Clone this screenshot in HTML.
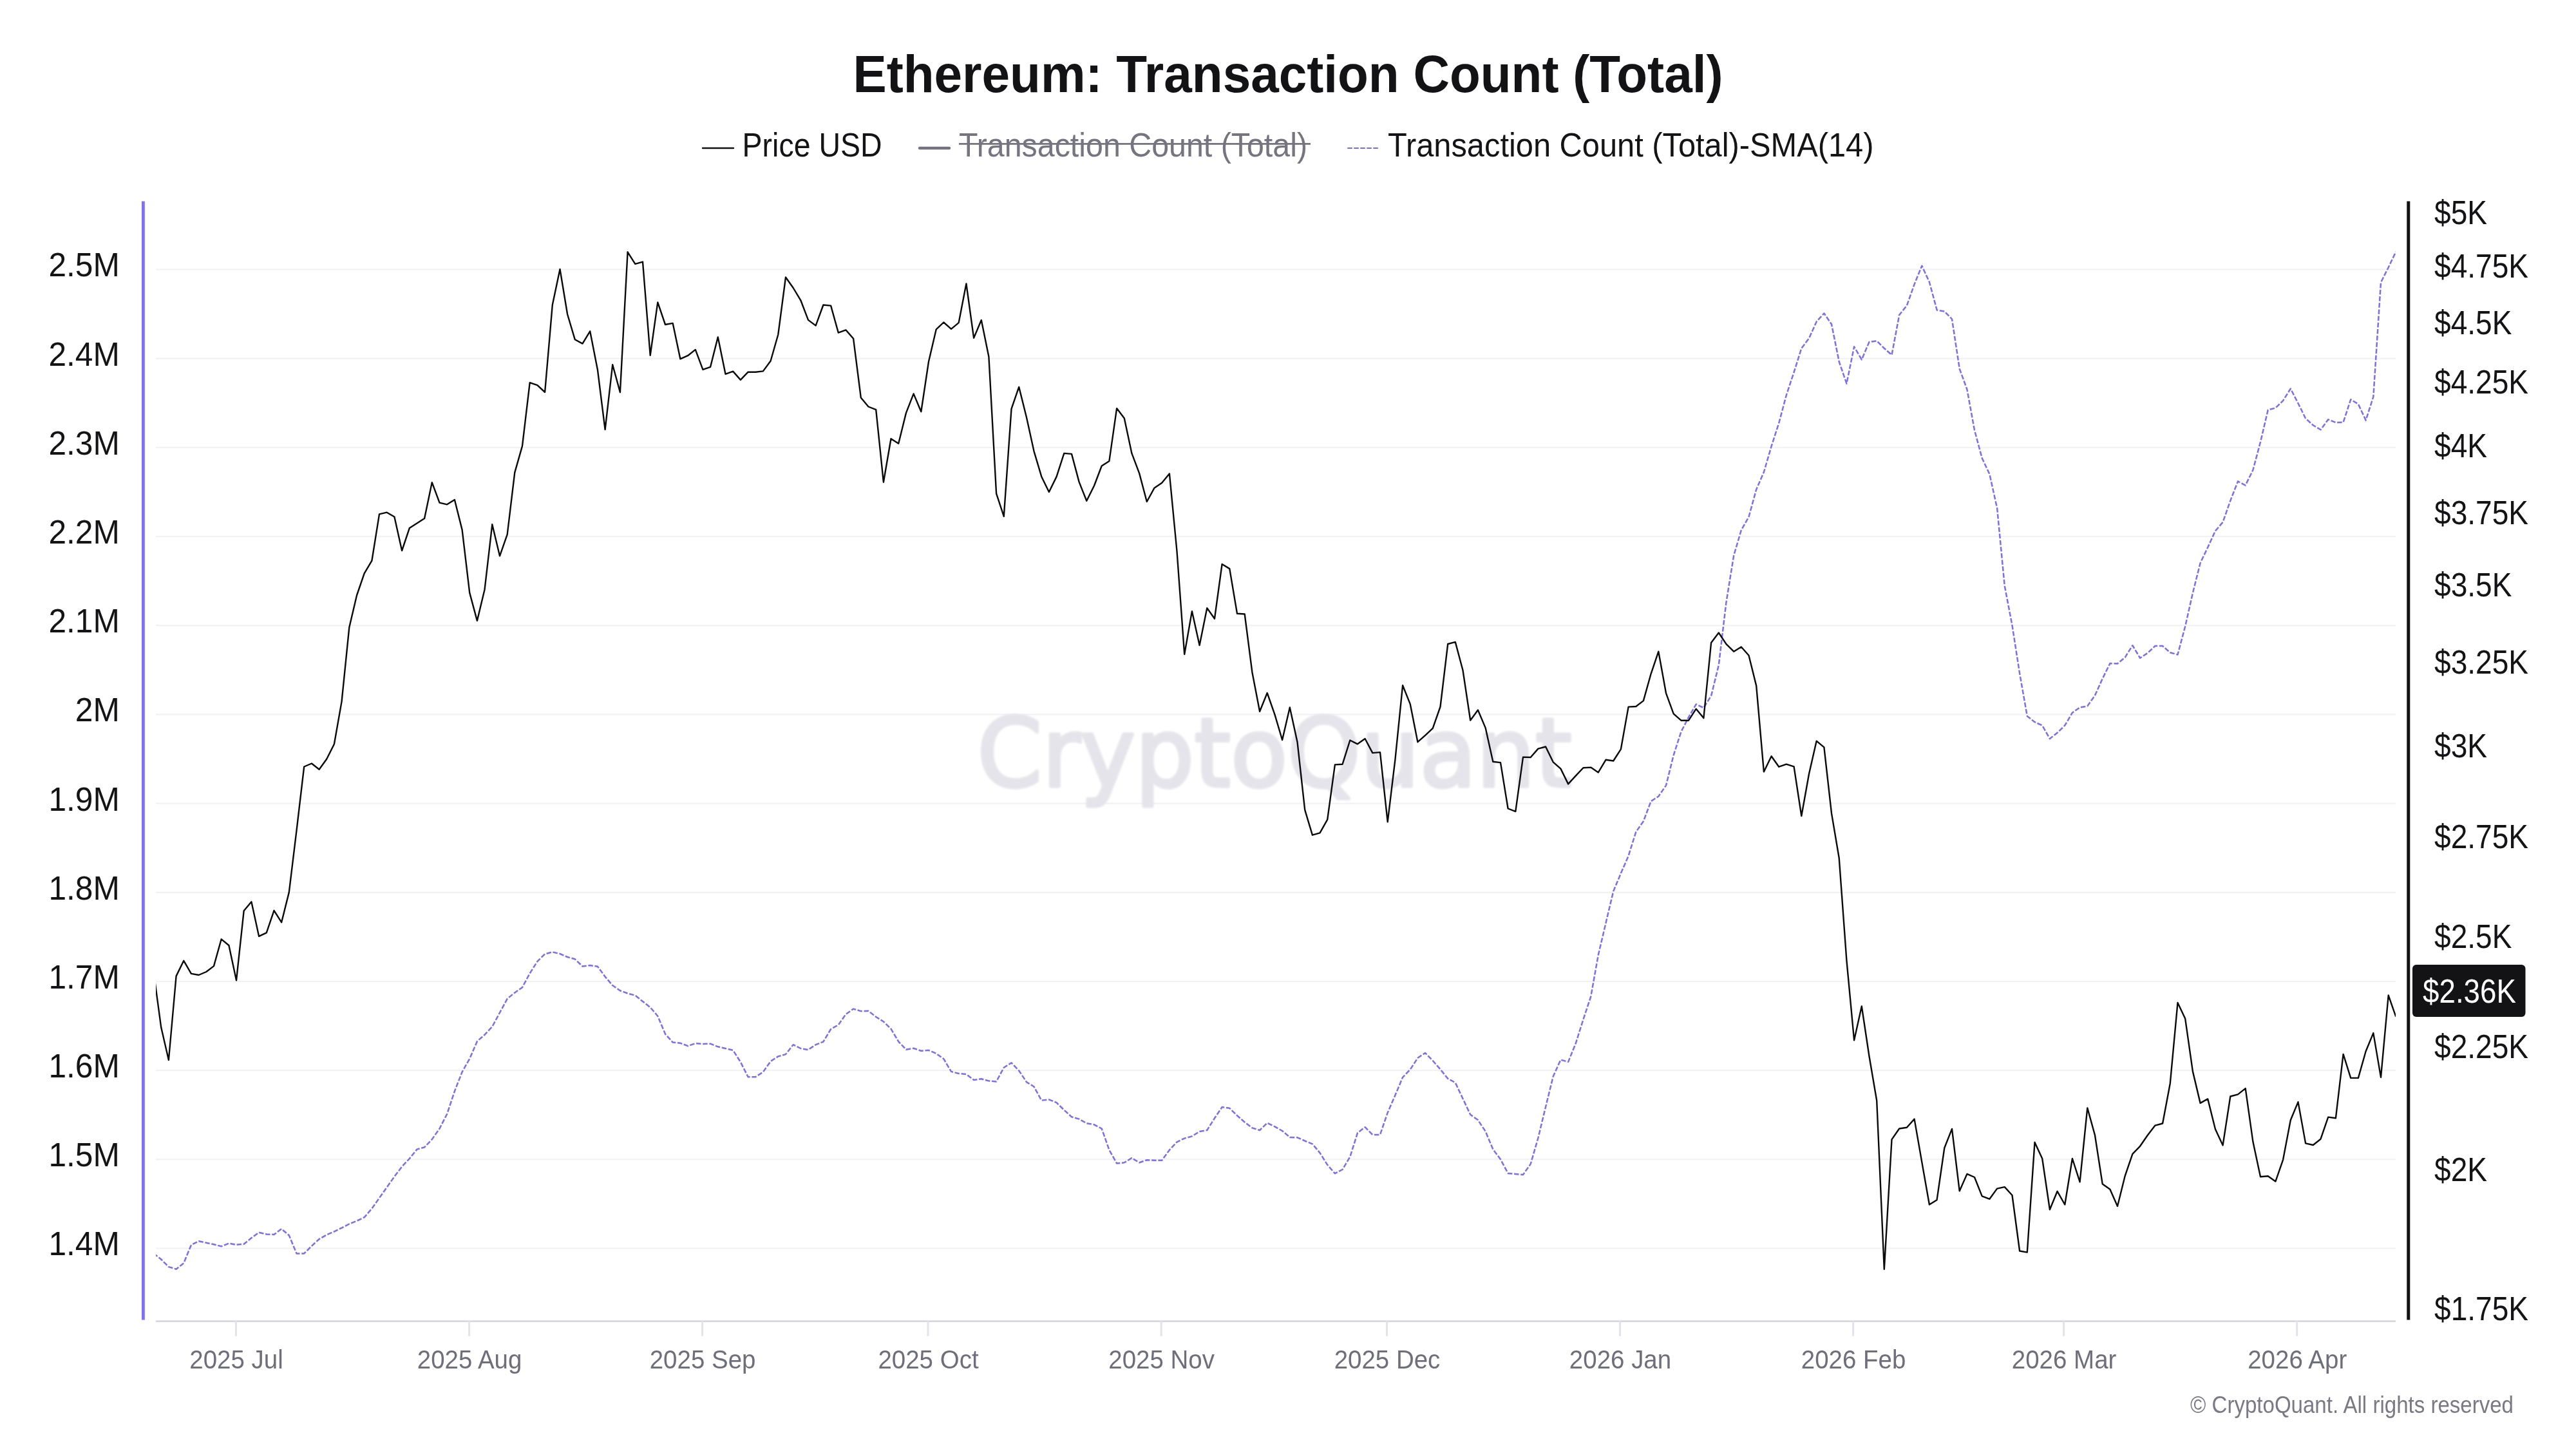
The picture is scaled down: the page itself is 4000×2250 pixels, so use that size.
<!DOCTYPE html>
<html><head><meta charset="utf-8"><title>Ethereum: Transaction Count (Total)</title><style>html,body{margin:0;padding:0;background:#fff;width:4000px;height:2250px;overflow:hidden}</style></head><body>
<svg width="4000" height="2250" viewBox="0 0 4000 2250" style="display:block;font-family:'Liberation Sans', 'DejaVu Sans', sans-serif;will-change:transform">
<rect x="0" y="0" width="4000" height="2250" fill="#ffffff"/>
<rect x="242" y="417.4" width="3478" height="2.2" fill="#f2f2f5"/>
<rect x="242" y="555.6" width="3478" height="2.2" fill="#f2f2f5"/>
<rect x="242" y="693.8" width="3478" height="2.2" fill="#f2f2f5"/>
<rect x="242" y="831.9" width="3478" height="2.2" fill="#f2f2f5"/>
<rect x="242" y="970.1" width="3478" height="2.2" fill="#f2f2f5"/>
<rect x="242" y="1108.3" width="3478" height="2.2" fill="#f2f2f5"/>
<rect x="242" y="1246.5" width="3478" height="2.2" fill="#f2f2f5"/>
<rect x="242" y="1384.7" width="3478" height="2.2" fill="#f2f2f5"/>
<rect x="242" y="1522.8" width="3478" height="2.2" fill="#f2f2f5"/>
<rect x="242" y="1661.0" width="3478" height="2.2" fill="#f2f2f5"/>
<rect x="242" y="1799.2" width="3478" height="2.2" fill="#f2f2f5"/>
<rect x="242" y="1937.4" width="3478" height="2.2" fill="#f2f2f5"/>
<filter id="wb" x="-5%" y="-30%" width="110%" height="160%"><feGaussianBlur stdDeviation="1.8"/></filter>
<text filter="url(#wb)" x="1517.5" y="1221" font-size="148" fill="#e4e4ea" stroke="#e4e4ea" stroke-width="5" stroke-linejoin="round" textLength="923" lengthAdjust="spacingAndGlyphs" style="font-family:'DejaVu Sans',sans-serif">CryptoQuant</text>
<rect x="242" y="2050.4" width="3478" height="2.4" fill="#d3d2dd"/>
<rect x="365.0" y="2051.5" width="3" height="23.3" fill="#e3e3e9"/>
<text transform="translate(367.0 2125.3) scale(0.939 1)" font-size="41" fill="#6f6e7b" text-anchor="middle">2025 Jul</text>
<rect x="727.1" y="2051.5" width="3" height="23.3" fill="#e3e3e9"/>
<text transform="translate(729.1 2125.3) scale(0.939 1)" font-size="41" fill="#6f6e7b" text-anchor="middle">2025 Aug</text>
<rect x="1089.1" y="2051.5" width="3" height="23.3" fill="#e3e3e9"/>
<text transform="translate(1091.1 2125.3) scale(0.939 1)" font-size="41" fill="#6f6e7b" text-anchor="middle">2025 Sep</text>
<rect x="1439.5" y="2051.5" width="3" height="23.3" fill="#e3e3e9"/>
<text transform="translate(1441.5 2125.3) scale(0.939 1)" font-size="41" fill="#6f6e7b" text-anchor="middle">2025 Oct</text>
<rect x="1801.6" y="2051.5" width="3" height="23.3" fill="#e3e3e9"/>
<text transform="translate(1803.6 2125.3) scale(0.939 1)" font-size="41" fill="#6f6e7b" text-anchor="middle">2025 Nov</text>
<rect x="2152.0" y="2051.5" width="3" height="23.3" fill="#e3e3e9"/>
<text transform="translate(2154.0 2125.3) scale(0.939 1)" font-size="41" fill="#6f6e7b" text-anchor="middle">2025 Dec</text>
<rect x="2514.0" y="2051.5" width="3" height="23.3" fill="#e3e3e9"/>
<text transform="translate(2516.0 2125.3) scale(0.939 1)" font-size="41" fill="#6f6e7b" text-anchor="middle">2026 Jan</text>
<rect x="2876.1" y="2051.5" width="3" height="23.3" fill="#e3e3e9"/>
<text transform="translate(2878.1 2125.3) scale(0.939 1)" font-size="41" fill="#6f6e7b" text-anchor="middle">2026 Feb</text>
<rect x="3203.1" y="2051.5" width="3" height="23.3" fill="#e3e3e9"/>
<text transform="translate(3205.1 2125.3) scale(0.939 1)" font-size="41" fill="#6f6e7b" text-anchor="middle">2026 Mar</text>
<rect x="3565.2" y="2051.5" width="3" height="23.3" fill="#e3e3e9"/>
<text transform="translate(3567.2 2125.3) scale(0.939 1)" font-size="41" fill="#6f6e7b" text-anchor="middle">2026 Apr</text>
<rect x="220" y="312.5" width="4.8" height="1737" fill="#7f71ef"/>
<rect x="3737.3" y="312.5" width="5" height="1737" fill="#111114"/>
<text transform="translate(185.8 429.4) scale(0.955 1)" font-size="52" fill="#141416" text-anchor="end">2.5M</text>
<text transform="translate(185.8 567.6) scale(0.955 1)" font-size="52" fill="#141416" text-anchor="end">2.4M</text>
<text transform="translate(185.8 705.8) scale(0.955 1)" font-size="52" fill="#141416" text-anchor="end">2.3M</text>
<text transform="translate(185.8 843.9) scale(0.955 1)" font-size="52" fill="#141416" text-anchor="end">2.2M</text>
<text transform="translate(185.8 982.1) scale(0.955 1)" font-size="52" fill="#141416" text-anchor="end">2.1M</text>
<text transform="translate(185.8 1120.3) scale(0.955 1)" font-size="52" fill="#141416" text-anchor="end">2M</text>
<text transform="translate(185.8 1258.5) scale(0.955 1)" font-size="52" fill="#141416" text-anchor="end">1.9M</text>
<text transform="translate(185.8 1396.7) scale(0.955 1)" font-size="52" fill="#141416" text-anchor="end">1.8M</text>
<text transform="translate(185.8 1534.8) scale(0.955 1)" font-size="52" fill="#141416" text-anchor="end">1.7M</text>
<text transform="translate(185.8 1673.0) scale(0.955 1)" font-size="52" fill="#141416" text-anchor="end">1.6M</text>
<text transform="translate(185.8 1811.2) scale(0.955 1)" font-size="52" fill="#141416" text-anchor="end">1.5M</text>
<text transform="translate(185.8 1949.4) scale(0.955 1)" font-size="52" fill="#141416" text-anchor="end">1.4M</text>
<text transform="translate(3780 347.7) scale(0.887 1)" font-size="52" fill="#141416">$5K</text>
<text transform="translate(3780 430.9) scale(0.887 1)" font-size="52" fill="#141416">$4.75K</text>
<text transform="translate(3780 518.6) scale(0.887 1)" font-size="52" fill="#141416">$4.5K</text>
<text transform="translate(3780 611.3) scale(0.887 1)" font-size="52" fill="#141416">$4.25K</text>
<text transform="translate(3780 709.6) scale(0.887 1)" font-size="52" fill="#141416">$4K</text>
<text transform="translate(3780 814.2) scale(0.887 1)" font-size="52" fill="#141416">$3.75K</text>
<text transform="translate(3780 926.1) scale(0.887 1)" font-size="52" fill="#141416">$3.5K</text>
<text transform="translate(3780 1046.3) scale(0.887 1)" font-size="52" fill="#141416">$3.25K</text>
<text transform="translate(3780 1176.1) scale(0.887 1)" font-size="52" fill="#141416">$3K</text>
<text transform="translate(3780 1317.2) scale(0.887 1)" font-size="52" fill="#141416">$2.75K</text>
<text transform="translate(3780 1471.8) scale(0.887 1)" font-size="52" fill="#141416">$2.5K</text>
<text transform="translate(3780 1642.6) scale(0.887 1)" font-size="52" fill="#141416">$2.25K</text>
<text transform="translate(3780 1833.6) scale(0.887 1)" font-size="52" fill="#141416">$2K</text>
<text transform="translate(3780 2050.2) scale(0.887 1)" font-size="52" fill="#141416">$1.75K</text>
<text x="1324.5" y="143" font-size="81" font-weight="bold" fill="#131316" textLength="1351" lengthAdjust="spacingAndGlyphs">Ethereum: Transaction Count (Total)</text>
<line x1="1091" y1="230" x2="1139" y2="230" stroke="#111" stroke-width="2.4" stroke-linecap="round"/>
<text x="1152.6" y="243" font-size="52" fill="#141416" textLength="217" lengthAdjust="spacingAndGlyphs">Price USD</text>
<line x1="1428" y1="230" x2="1474" y2="230" stroke="#73727e" stroke-width="4.4" stroke-linecap="round"/>
<text x="1489" y="243" font-size="52" fill="#75747f" textLength="541" lengthAdjust="spacingAndGlyphs">Transaction Count (Total)</text>
<rect x="1489" y="222" width="546" height="2.8" fill="#75747f"/>
<line x1="2092.3" y1="230" x2="2139.8" y2="230" stroke="#7768ef" stroke-width="2" stroke-dasharray="7.5,2.5"/>
<text x="2155" y="243" font-size="52" fill="#141416" textLength="754.5" lengthAdjust="spacingAndGlyphs">Transaction Count (Total)-SMA(14)</text>
<text x="3401" y="2194" font-size="37" fill="#7a7984" textLength="502" lengthAdjust="spacingAndGlyphs">© CryptoQuant. All rights reserved</text>
<clipPath id="pc"><rect x="242" y="300" width="3478" height="1750"/></clipPath>
<path d="M238.5,1946.2 L250.2,1955.5 L261.9,1967.1 L273.6,1970.7 L285.3,1961.3 L296.9,1933.1 L308.6,1927.3 L320.3,1929.8 L332.0,1932.3 L343.7,1935.3 L355.4,1930.6 L367.0,1932.8 L378.7,1931.8 L390.4,1922.3 L402.1,1913.7 L413.8,1916.5 L425.5,1917.0 L437.1,1908.3 L448.8,1918.2 L460.5,1946.4 L472.2,1946.4 L483.9,1934.8 L495.6,1924.0 L507.2,1917.4 L518.9,1912.4 L530.6,1906.6 L542.3,1900.5 L554.0,1895.8 L565.7,1890.2 L577.4,1876.7 L589.0,1860.2 L600.7,1843.6 L612.4,1827.0 L624.1,1811.5 L635.8,1799.1 L647.5,1784.6 L659.1,1781.5 L670.8,1769.1 L682.5,1752.5 L694.2,1729.7 L705.9,1694.5 L717.6,1664.5 L729.2,1644.0 L740.9,1617.0 L752.6,1606.7 L764.3,1594.2 L776.0,1572.5 L787.7,1550.8 L799.3,1541.4 L811.0,1533.2 L822.7,1511.4 L834.4,1492.8 L846.1,1481.4 L857.8,1478.3 L869.5,1481.0 L881.1,1486.0 L892.8,1489.3 L904.5,1500.5 L916.2,1499.0 L927.9,1500.7 L939.6,1516.6 L951.2,1530.1 L962.9,1538.3 L974.6,1542.5 L986.3,1545.6 L998.0,1554.9 L1009.7,1564.2 L1021.3,1577.7 L1033.0,1605.6 L1044.7,1618.6 L1056.4,1619.7 L1068.1,1624.2 L1079.8,1620.1 L1091.4,1621.1 L1103.1,1620.7 L1114.8,1625.3 L1126.5,1628.0 L1138.2,1630.8 L1149.9,1649.1 L1161.6,1672.3 L1173.2,1672.3 L1184.9,1664.6 L1196.6,1648.0 L1208.3,1640.4 L1220.0,1637.1 L1231.7,1622.2 L1243.3,1628.0 L1255.0,1630.0 L1266.7,1622.2 L1278.4,1617.6 L1290.1,1598.0 L1301.8,1591.4 L1313.4,1574.9 L1325.1,1566.6 L1336.8,1570.1 L1348.5,1569.7 L1360.2,1579.0 L1371.9,1586.3 L1383.5,1597.6 L1395.2,1617.3 L1406.9,1629.7 L1418.6,1627.7 L1430.3,1631.8 L1442.0,1630.8 L1453.7,1635.9 L1465.3,1644.2 L1477.0,1663.9 L1488.7,1667.0 L1500.4,1668.0 L1512.1,1676.9 L1523.8,1675.3 L1535.4,1678.4 L1547.1,1679.4 L1558.8,1657.7 L1570.5,1650.3 L1582.2,1662.5 L1593.9,1680.1 L1605.5,1687.3 L1617.2,1708.7 L1628.9,1707.4 L1640.6,1712.2 L1652.3,1723.6 L1664.0,1734.3 L1675.6,1737.6 L1687.3,1744.3 L1699.0,1746.3 L1710.7,1752.5 L1722.4,1785.7 L1734.1,1806.4 L1745.8,1805.3 L1757.4,1798.1 L1769.1,1805.3 L1780.8,1801.2 L1792.5,1801.8 L1804.2,1801.8 L1815.9,1785.7 L1827.5,1773.3 L1839.2,1767.6 L1850.9,1764.4 L1862.6,1757.0 L1874.3,1755.0 L1886.0,1736.3 L1897.6,1719.1 L1909.3,1720.8 L1921.0,1732.2 L1932.7,1742.5 L1944.4,1751.4 L1956.1,1755.0 L1967.7,1743.6 L1979.4,1749.4 L1991.1,1756.0 L2002.8,1765.9 L2014.5,1766.3 L2026.2,1771.5 L2037.9,1776.3 L2049.5,1790.1 L2061.2,1808.8 L2072.9,1822.2 L2084.6,1816.0 L2096.3,1796.4 L2108.0,1759.1 L2119.6,1750.2 L2131.3,1762.0 L2143.0,1761.9 L2154.7,1727.7 L2166.4,1700.8 L2178.1,1672.8 L2189.7,1660.8 L2201.4,1642.8 L2213.1,1635.0 L2224.8,1647.0 L2236.5,1660.4 L2248.2,1674.9 L2259.8,1681.1 L2271.5,1706.0 L2283.2,1730.8 L2294.9,1739.1 L2306.6,1756.7 L2318.3,1784.6 L2330.0,1800.2 L2341.6,1821.9 L2353.3,1822.9 L2365.0,1824.0 L2376.7,1807.4 L2388.4,1767.0 L2400.1,1718.7 L2411.7,1671.6 L2423.4,1645.6 L2435.1,1648.9 L2446.8,1620.0 L2458.5,1583.0 L2470.2,1547.5 L2481.8,1482.9 L2493.5,1433.2 L2505.2,1384.0 L2516.9,1356.0 L2528.6,1329.1 L2540.3,1291.8 L2551.9,1275.2 L2563.6,1244.2 L2575.3,1236.6 L2587.0,1219.6 L2598.7,1172.6 L2610.4,1136.3 L2622.1,1113.6 L2633.7,1093.5 L2645.4,1099.1 L2657.1,1080.4 L2668.8,1032.8 L2680.5,935.0 L2692.2,862.5 L2703.8,823.2 L2715.5,802.5 L2727.2,760.0 L2738.9,733.1 L2750.6,693.0 L2762.3,656.7 L2773.9,613.3 L2785.6,578.0 L2797.3,540.8 L2809.0,525.3 L2820.7,499.4 L2832.4,486.5 L2844.0,503.5 L2855.7,561.5 L2867.4,595.7 L2879.1,538.3 L2890.8,558.4 L2902.5,530.9 L2914.2,529.4 L2925.8,540.8 L2937.5,551.1 L2949.2,489.0 L2960.9,474.5 L2972.6,441.4 L2984.3,412.7 L2995.9,438.0 L3007.6,481.4 L3019.3,483.5 L3031.0,495.5 L3042.7,572.5 L3054.4,604.6 L3066.0,668.0 L3077.7,711.4 L3089.4,736.3 L3101.1,789.1 L3112.8,910.0 L3124.5,971.1 L3136.1,1045.6 L3147.8,1111.9 L3159.5,1121.2 L3171.2,1126.4 L3182.9,1147.1 L3194.6,1137.8 L3206.3,1126.4 L3217.9,1106.7 L3229.6,1098.4 L3241.3,1096.4 L3253.0,1079.8 L3264.7,1053.9 L3276.4,1030.1 L3288.0,1030.5 L3299.7,1020.8 L3311.4,1002.2 L3323.1,1021.8 L3334.8,1014.0 L3346.5,1003.0 L3358.1,1003.0 L3369.8,1013.3 L3381.5,1016.5 L3393.2,972.5 L3404.9,920.8 L3416.6,874.2 L3428.2,850.0 L3439.9,824.5 L3451.6,810.8 L3463.3,777.4 L3475.0,747.4 L3486.7,753.6 L3498.4,729.8 L3510.0,686.3 L3521.7,636.6 L3533.4,633.5 L3545.1,622.1 L3556.8,603.5 L3568.5,626.3 L3580.1,649.7 L3591.8,660.3 L3603.5,667.3 L3615.2,651.3 L3626.9,656.1 L3638.6,655.8 L3650.2,620.3 L3661.9,627.5 L3673.6,652.6 L3685.3,616.2 L3697.0,438.4 L3708.7,415.2 L3720.3,391.0" fill="none" stroke="#7b6ef0" stroke-width="2.5" stroke-dasharray="7.5,2.7" stroke-linejoin="round" clip-path="url(#pc)"/>
<path d="M238.5,1509.0 L250.2,1595.3 L261.9,1646.0 L273.6,1515.6 L285.3,1491.8 L296.9,1511.9 L308.6,1514.0 L320.3,1509.0 L332.0,1500.1 L343.7,1458.3 L355.4,1468.0 L367.0,1522.3 L378.7,1414.2 L390.4,1400.3 L402.1,1453.9 L413.8,1448.3 L425.5,1413.8 L437.1,1432.2 L448.8,1385.6 L460.5,1289.7 L472.2,1190.5 L483.9,1185.5 L495.6,1194.8 L507.2,1178.7 L518.9,1155.5 L530.6,1089.1 L542.3,974.2 L554.0,924.5 L565.7,890.4 L577.4,870.7 L589.0,798.4 L600.7,795.7 L612.4,802.5 L624.1,855.0 L635.8,820.1 L647.5,812.6 L659.1,805.0 L670.8,749.1 L682.5,780.6 L694.2,783.3 L705.9,776.0 L717.6,822.6 L729.2,920.4 L740.9,963.9 L752.6,915.2 L764.3,814.3 L776.0,863.3 L787.7,829.8 L799.3,733.6 L811.0,692.6 L822.7,594.2 L834.4,598.2 L846.1,609.0 L857.8,473.5 L869.5,418.0 L881.1,488.0 L892.8,527.3 L904.5,533.6 L916.2,514.3 L927.9,573.9 L939.6,667.1 L951.2,566.3 L962.9,609.1 L974.6,391.3 L986.3,409.8 L998.0,406.6 L1009.7,551.8 L1021.3,469.4 L1033.0,504.0 L1044.7,501.9 L1056.4,557.4 L1068.1,552.2 L1079.8,542.9 L1091.4,573.9 L1103.1,569.8 L1114.8,523.4 L1126.5,580.8 L1138.2,576.6 L1149.9,589.9 L1161.6,577.7 L1173.2,577.7 L1184.9,576.4 L1196.6,560.5 L1208.3,519.5 L1220.0,430.5 L1231.7,447.0 L1243.3,466.3 L1255.0,496.9 L1266.7,505.6 L1278.4,473.5 L1290.1,474.6 L1301.8,516.6 L1313.4,512.4 L1325.1,525.7 L1336.8,617.5 L1348.5,631.5 L1360.2,636.2 L1371.9,748.7 L1383.5,681.2 L1395.2,688.7 L1406.9,641.4 L1418.6,611.4 L1430.3,639.3 L1442.0,561.5 L1453.7,511.5 L1465.3,500.5 L1477.0,510.8 L1488.7,501.1 L1500.4,440.5 L1512.1,524.9 L1523.8,497.0 L1535.4,554.0 L1547.1,766.3 L1558.8,801.9 L1570.5,634.8 L1582.2,600.9 L1593.9,647.7 L1605.5,700.6 L1617.2,739.9 L1628.9,764.0 L1640.6,740.1 L1652.3,703.9 L1664.0,704.9 L1675.6,748.4 L1687.3,777.8 L1699.0,754.2 L1710.7,723.5 L1722.4,715.9 L1734.1,634.1 L1745.8,649.4 L1757.4,703.9 L1769.1,734.9 L1780.8,779.0 L1792.5,757.7 L1804.2,749.8 L1815.9,735.5 L1827.5,856.0 L1839.2,1016.0 L1850.9,949.1 L1862.6,1002.1 L1874.3,944.1 L1886.0,960.7 L1897.6,876.0 L1909.3,883.1 L1921.0,952.8 L1932.7,953.5 L1944.4,1043.9 L1956.1,1104.7 L1967.7,1076.0 L1979.4,1109.4 L1991.1,1149.0 L2002.8,1098.5 L2014.5,1152.2 L2026.2,1257.7 L2037.9,1296.7 L2049.5,1293.4 L2061.2,1272.7 L2072.9,1187.4 L2084.6,1186.7 L2096.3,1149.5 L2108.0,1155.3 L2119.6,1147.0 L2131.3,1169.1 L2143.0,1168.1 L2154.7,1276.4 L2166.4,1179.7 L2178.1,1064.2 L2189.7,1093.1 L2201.4,1152.2 L2213.1,1141.8 L2224.8,1130.8 L2236.5,1097.5 L2248.2,1000.0 L2259.8,996.9 L2271.5,1040.8 L2283.2,1118.5 L2294.9,1102.5 L2306.6,1130.1 L2318.3,1182.8 L2330.0,1184.1 L2341.6,1255.5 L2353.3,1260.1 L2365.0,1175.6 L2376.7,1176.0 L2388.4,1162.6 L2400.1,1159.5 L2411.7,1183.3 L2423.4,1193.6 L2435.1,1217.4 L2446.8,1204.6 L2458.5,1192.2 L2470.2,1191.6 L2481.8,1199.4 L2493.5,1179.8 L2505.2,1181.5 L2516.9,1163.3 L2528.6,1097.6 L2540.3,1097.0 L2551.9,1088.1 L2563.6,1046.3 L2575.3,1011.7 L2587.0,1076.3 L2598.7,1108.4 L2610.4,1118.7 L2622.1,1118.7 L2633.7,1100.7 L2645.4,1115.0 L2657.1,998.0 L2668.8,982.5 L2680.5,1000.1 L2692.2,1011.7 L2703.8,1004.5 L2715.5,1017.7 L2727.2,1064.9 L2738.9,1198.4 L2750.6,1174.2 L2762.3,1190.7 L2773.9,1186.7 L2785.6,1190.4 L2797.3,1267.0 L2809.0,1201.8 L2820.7,1150.6 L2832.4,1160.4 L2844.0,1262.9 L2855.7,1332.2 L2867.4,1491.1 L2879.1,1615.3 L2890.8,1562.5 L2902.5,1640.2 L2914.2,1709.0 L2925.8,1970.9 L2937.5,1769.4 L2949.2,1752.5 L2960.9,1750.8 L2972.6,1737.6 L2984.3,1804.6 L2995.9,1870.5 L3007.6,1863.2 L3019.3,1782.5 L3031.0,1752.9 L3042.7,1849.4 L3054.4,1822.9 L3066.0,1828.0 L3077.7,1857.4 L3089.4,1861.8 L3101.1,1845.6 L3112.8,1843.1 L3124.5,1856.0 L3136.1,1942.5 L3147.8,1944.6 L3159.5,1773.8 L3171.2,1799.0 L3182.9,1878.3 L3194.6,1849.8 L3206.3,1870.5 L3217.9,1799.0 L3229.6,1835.3 L3241.3,1720.4 L3253.0,1762.8 L3264.7,1838.4 L3276.4,1846.7 L3288.0,1873.0 L3299.7,1826.0 L3311.4,1791.8 L3323.1,1779.8 L3334.8,1762.8 L3346.5,1747.6 L3358.1,1744.5 L3369.8,1682.2 L3381.5,1556.9 L3393.2,1581.8 L3404.9,1663.6 L3416.6,1712.9 L3428.2,1706.4 L3439.9,1753.2 L3451.6,1778.4 L3463.3,1702.5 L3475.0,1699.4 L3486.7,1690.1 L3498.4,1772.8 L3510.0,1827.3 L3521.7,1826.3 L3533.4,1834.6 L3545.1,1800.8 L3556.8,1739.2 L3568.5,1711.1 L3580.1,1775.4 L3591.8,1778.0 L3603.5,1768.7 L3615.2,1734.6 L3626.9,1736.3 L3638.6,1636.9 L3650.2,1673.9 L3661.9,1673.9 L3673.6,1632.5 L3685.3,1604.1 L3697.0,1672.9 L3708.7,1545.5 L3720.3,1578.7" fill="none" stroke="#0a0a0c" stroke-width="2.4" stroke-linejoin="round" clip-path="url(#pc)"/>
<rect x="3746" y="1498" width="175.5" height="81" rx="6" fill="#131316"/>
<text x="3762" y="1557" font-size="52" fill="#ffffff" textLength="145" lengthAdjust="spacingAndGlyphs">$2.36K</text>
</svg>
</body></html>
